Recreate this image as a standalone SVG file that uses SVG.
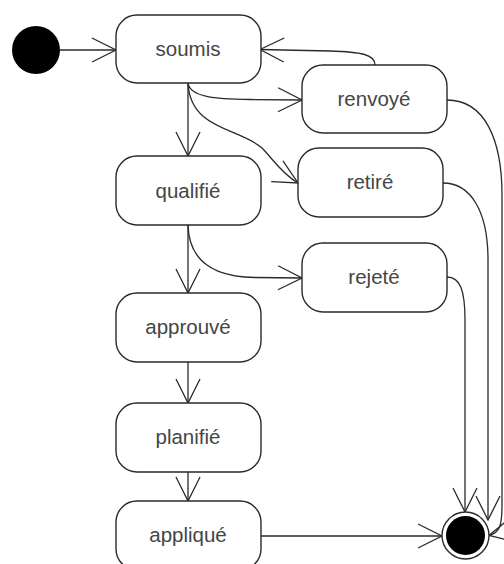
<svg xmlns="http://www.w3.org/2000/svg" width="504" height="564" viewBox="0 0 504 564">
<defs>
<style>
.state rect{fill:#fff;stroke:#2a2a2a;stroke-width:1.4}
.state text{font-family:"Liberation Sans",Arial,sans-serif;font-size:20.5px;fill:#454545;text-anchor:middle}
.edge{fill:none;stroke:#2a2a2a;stroke-width:1.3;marker-end:url(#arr)}
</style>
<marker id="arr" viewBox="-27 -15 30 30" refX="0" refY="0" markerWidth="30" markerHeight="30" markerUnits="userSpaceOnUse" orient="auto">
<path d="M-24,-12 L0,0 L-24,12" fill="none" stroke="#2a2a2a" stroke-width="1.3"/>
</marker>
</defs>
<g id="connectors">
<path class="edge" d="M60,50 L116,50"/>
<path class="edge" d="M188,83 L188,156"/>
<path class="edge" d="M188,83 C190,97 215,99 250,99.5 L302,100"/>
<path class="edge" d="M188,83 C190,130 240,128 262,148 C272,158 282,174 298,183"/>
<path class="edge" d="M375,65 C375,54 360,52 330,51 L260,49.5"/>
<path class="edge" d="M188,225 L188,293"/>
<path class="edge" d="M188,225 C189,262 215,277 255,277.5 L302,278"/>
<path class="edge" d="M188,362 L188,403"/>
<path class="edge" d="M188,472 L188,501"/>
<path class="edge" d="M261,536 L442,536"/>
<path class="edge" d="M447,277 C460,277 465,290 465,320 L465,512"/>
<path class="edge" d="M443,183 C470,183 488,210 488,260 L488,520"/>
<path class="edge" d="M447,100 C485,100 502,140 502,195 L502,505 C502,525 500,533 489,535.5"/>
</g>
<g id="initial"><circle cx="36" cy="50" r="24" fill="#000"/></g>
<g id="soumis" class="state"><rect x="116" y="15" width="145" height="68" rx="21"/><text x="188" y="56">soumis</text></g>
<g id="qualifie" class="state"><rect x="116" y="156" width="145" height="69" rx="21"/><text x="188" y="198">qualifié</text></g>
<g id="approuve" class="state"><rect x="116" y="293" width="145" height="69" rx="21"/><text x="188" y="334">approuvé</text></g>
<g id="planifie" class="state"><rect x="116" y="403" width="145" height="69" rx="21"/><text x="188" y="444">planifié</text></g>
<g id="applique" class="state"><rect x="116" y="501" width="145" height="69" rx="21"/><text x="188" y="542">appliqué</text></g>
<g id="renvoye" class="state"><rect x="302" y="65" width="145" height="68" rx="21"/><text x="374" y="106">renvoyé</text></g>
<g id="retire" class="state"><rect x="298" y="148" width="145" height="69" rx="21"/><text x="370" y="189">retiré</text></g>
<g id="rejete" class="state"><rect x="302" y="243" width="145" height="69" rx="21"/><text x="374" y="284">rejeté</text></g>
<g id="final"><circle cx="465.5" cy="535.5" r="23.5" fill="#fff" stroke="#2a2a2a" stroke-width="1.4"/><circle cx="465.5" cy="535.5" r="19.5" fill="#000"/></g>
</svg>
